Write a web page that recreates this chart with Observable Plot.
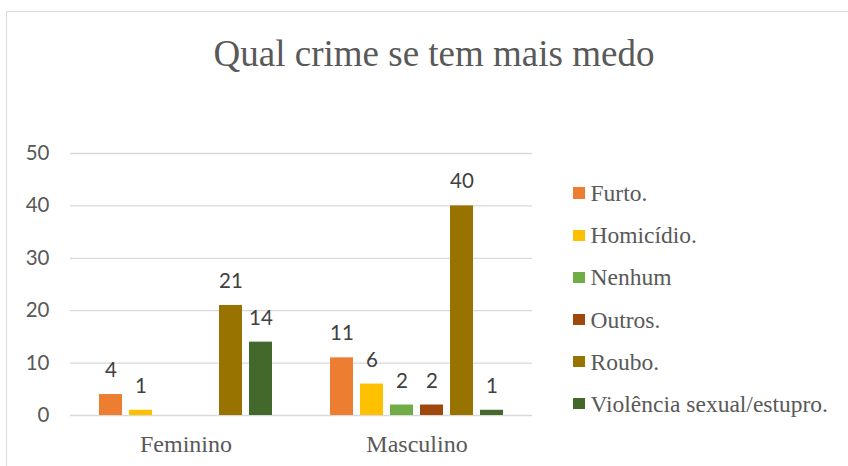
<!DOCTYPE html>
<html>
<head>
<meta charset="utf-8">
<script src="https://cdn.jsdelivr.net/npm/d3@7"></script>
<script src="https://cdn.jsdelivr.net/npm/@observablehq/plot@0.6"></script>
<style>
  html, body { margin: 0; padding: 0; background: #fff; }
  #wrap { position: relative; width: 848px; height: 466px; overflow: hidden; background: #fff; }
  #border { position: absolute; left: 6px; top: 11px; width: 900px; height: 500px;
            border-left: 1.5px solid #d9d9d9; border-top: 1.5px solid #d9d9d9; }
  #title { position: absolute; left: 10px; top: 35px; width: 848px; text-align: center;
           font-family: "Liberation Serif", "DejaVu Serif", serif; font-size: 37px;
           line-height: 37px; color: #595959; white-space: nowrap; }
  #chart { position: absolute; left: 0; top: 110px; }
  #legend { position: absolute; left: 0; top: 0; }
  .lg-row { position: absolute; left: 573px; height: 24px; display: flex; align-items: center; white-space: nowrap; }
  .lg-sw { width: 11.5px; height: 11.5px; margin-right: 6px; flex: none; }
  .lg-tx { font-family: "Liberation Serif", "DejaVu Serif", serif; font-size: 23.5px; color: #595959; line-height: 24px; }
</style>
</head>
<body>
<div id="wrap">
  <div id="border"></div>
  <div id="title"></div>
  <div id="chart"></div>
  <div id="legend"></div>
</div>
<script>
const title = "Qual crime se tem mais medo";
const groups = ["Feminino", "Masculino"];
const series = ["Furto.", "Homicídio.", "Nenhum", "Outros.", "Roubo.", "Violência sexual/estupro."];
const feminino = [4, 1, 0, 0, 21, 14];
const masculino = [11, 6, 2, 2, 40, 1];
const colors = ["#ED7D31", "#FFC000", "#70AD47", "#9E480E", "#997300", "#43682B"];
const yTicks = [0, 10, 20, 30, 40, 50];

const values = [feminino, masculino];
const data = groups.flatMap((g, gi) => series.map((s, si) => ({group: g, series: s, value: values[gi][si]})));

document.getElementById("title").textContent = title;

const SANS = "Lato, 'Open Sans', sans-serif";
const SERIF = "'Liberation Serif', 'DejaVu Serif', serif";

const chart = Plot.plot({
  width: 848,
  height: 356,
  marginTop: 43,
  marginBottom: 51,
  marginLeft: 70,
  marginRight: 316,
  style: {background: "transparent", fontFamily: SANS, overflow: "visible"},
  fx: {domain: groups, padding: 0, label: null},
  x: {domain: series, axis: null, paddingInner: 0.24, paddingOuter: 0.87},
  y: {domain: [0, 50], label: null},
  color: {domain: series, range: colors},
  marks: [
    Plot.gridY(yTicks, {stroke: "#d9d9d9", strokeOpacity: 1, strokeWidth: 1.3}),
    Plot.axisY(yTicks, {tickSize: 0, tickPadding: 21, fontSize: 20.5, fill: "#595959", label: null, fontFamily: SANS}),
    Plot.barY(data, {fx: "group", x: "series", y: "value", fill: "series"}),
    Plot.text(data.filter(d => d.value > 0), {fx: "group", x: "series", y: "value", text: d => String(d.value),
      dy: -24, fontSize: 20.5, fill: "#404040", fontFamily: SANS}),
    Plot.axisFx({anchor: "bottom", tickSize: 0, tickPadding: 19, fontSize: 24, fill: "#595959", label: null,
      fontFamily: SERIF})
  ]
});
document.getElementById("chart").appendChild(chart);

const legend = document.getElementById("legend");
series.forEach((s, i) => {
  const row = document.createElement("div");
  row.className = "lg-row";
  row.style.top = (193.2 + i * 42.1 - 12) + "px";
  const sw = document.createElement("span");
  sw.className = "lg-sw";
  sw.style.background = colors[i];
  const tx = document.createElement("span");
  tx.className = "lg-tx";
  tx.textContent = s;
  row.appendChild(sw);
  row.appendChild(tx);
  legend.appendChild(row);
});
</script>
</body>
</html>
